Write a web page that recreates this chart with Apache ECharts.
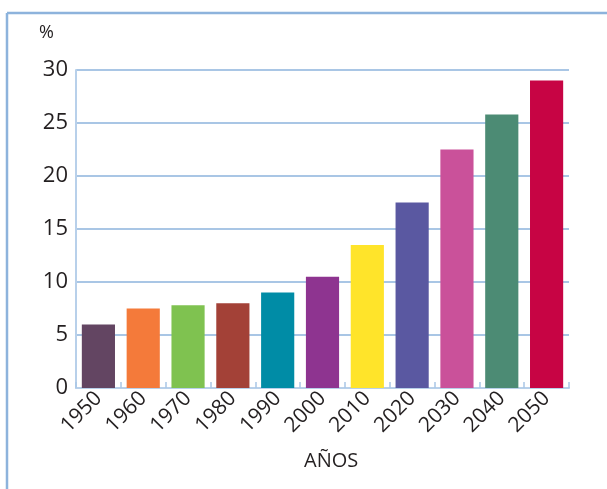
<!DOCTYPE html>
<html>
<head>
<meta charset="utf-8">
<script src="https://cdn.jsdelivr.net/npm/echarts@6/dist/echarts.min.js"></script>
<style>
  html, body { margin: 0; padding: 0; background: #fff; }
  #chart { width: 607px; height: 489px; }
</style>
</head>
<body>
<div id="chart"></div>
<script>
// años y porcentaje
const years = ['1950', '1960', '1970', '1980', '1990', '2000', '2010', '2020', '2030', '2040', '2050'];
const values = [6, 7.5, 7.8, 8, 9, 10.5, 13.5, 17.5, 22.5, 25.8, 29];
const barColors = ['#634562', '#f47a3a', '#7fc250', '#a34137', '#008ca6', '#8e3490',
                   '#ffe42a', '#5a58a1', '#ca519a', '#4c8b74', '#c70444'];

const chart = echarts.init(document.getElementById('chart'));
const font = '"Open Sans", "Noto Sans", sans-serif';

chart.setOption({
  animation: false,
  textStyle: { fontFamily: font },
  grid: { left: 76, right: 38, top: 70, bottom: 101, outerBoundsMode: 'none' },
  // marco azul (arriba e izquierda)
  graphic: [
    { type: 'line', shape: { x1: 7, y1: 13, x2: 607, y2: 13 }, style: { stroke: '#8db3dc', lineWidth: 2.5 } },
    { type: 'line', shape: { x1: 7, y1: 13, x2: 7, y2: 489 }, style: { stroke: '#8db3dc', lineWidth: 2.5 } },
    { type: 'text', left: 39, top: 24, style: { text: '%', fontSize: 18, fill: '#231f20', fontFamily: font } },
    { type: 'text', left: 304, top: 451, style: { text: 'AÑOS', fontSize: 20, fill: '#231f20', fontFamily: font } }
  ],
  xAxis: {
    type: 'category',
    data: years,
    axisLine: { lineStyle: { color: '#b8d0ea', width: 2 } },
    axisTick: { show: true, inside: true, length: 6, lineStyle: { color: '#a9c6e6', width: 1.5 } },
    axisLabel: { rotate: 45, margin: 7, interval: 0, fontSize: 21, color: '#231f20', fontFamily: font }
  },
  yAxis: {
    type: 'value',
    min: 0,
    max: 30,
    interval: 5,
    axisLine: { show: true, lineStyle: { color: '#b8d0ea', width: 2 } },
    axisTick: { show: false },
    axisLabel: { fontSize: 22, color: '#231f20', margin: 8, fontFamily: font },
    splitLine: { lineStyle: { color: '#8db3dc', width: 1.5 } }
  },
  series: [{
    type: 'bar',
    barWidth: '74%',
    data: values.map((v, i) => ({ value: v, itemStyle: { color: barColors[i] } }))
  }]
});
</script>
</body>
</html>
